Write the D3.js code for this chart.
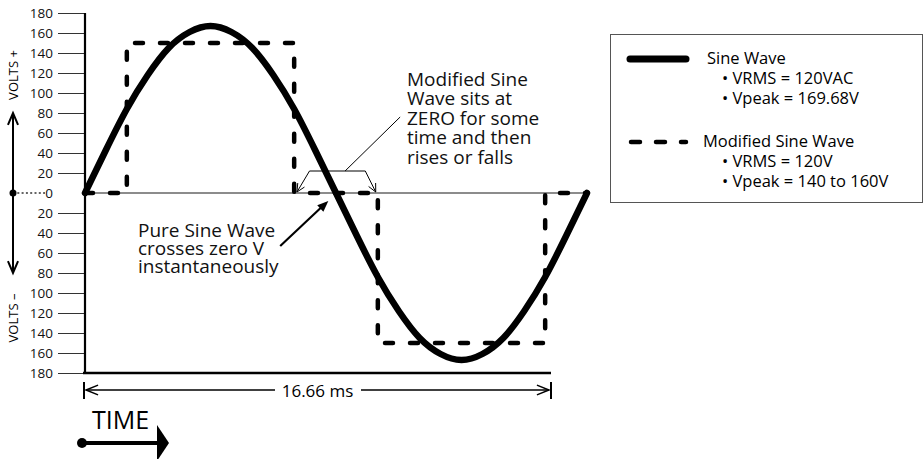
<!DOCTYPE html>
<html>
<head>
<meta charset="utf-8">
<script src="https://cdn.jsdelivr.net/npm/d3@7"></script>
<style>
  body { margin: 0; background: #fff; }
  svg { display: block; font-family: "Open Sans", "Noto Sans", sans-serif; }
</style>
</head>
<body>
<svg id="chart" width="924" height="459"></svg>
<script>
// values
var yTicks = [-180, -160, -140, -120, -100, -80, -60, -40, -20, 0, 20, 40, 60, 80, 100, 120, 140, 160, 180];

// pure sine, phase in degrees -> volts
var sineDeg   = [0, 15, 30, 45, 60, 75, 90, 105, 120, 135, 150, 165, 180, 195, 210, 225, 240, 255, 270, 285, 300, 315, 330, 345, 360];
var sineVolts = [0, 43, 84, 118, 145, 161, 167, 161, 145, 118, 84, 43, 0, -43, -84, -118, -145, -161, -167, -161, -145, -118, -84, -43, 0];

// modified sine (stepped)
var modDeg   = [0, 30, 30, 150, 150, 210, 210, 330, 330, 360];
var modVolts = [0, 0, 150, 150, 0, 0, -150, -150, 0, 0];

var periodMs = 16.66;
var periodLabel = "16.66 ms";

var legendItems = [
  {name: "Sine Wave", dash: null, lines: ["\u2022 VRMS = 120VAC", "\u2022 Vpeak = 169.68V"]},
  {name: "Modified Sine Wave", dash: "dash", lines: ["\u2022 VRMS = 120V", "\u2022 Vpeak = 140 to 160V"]}
];

var noteModified = ["Modified Sine", "Wave sits at", "ZERO for some", "time and then", "rises or falls"];
var notePure = ["Pure Sine Wave", "crosses zero V", "instantaneously"];

var svg = d3.select("#chart");

var x = d3.scaleLinear().domain([0, 360]).range([85, 587]);
var y = d3.scaleLinear().domain([-180, 180]).range([373, 13]);
var t = d3.scaleLinear().domain([0, periodMs]).range([84, 551]);

// open arrow head helper
function vHead(g, tx, ty, ang, len, spread, w) {
  var a1 = ang + Math.PI - spread, a2 = ang + Math.PI + spread;
  g.append("path")
    .attr("d", "M" + (tx + len * Math.cos(a1)) + "," + (ty + len * Math.sin(a1)) +
               "L" + tx + "," + ty +
               "L" + (tx + len * Math.cos(a2)) + "," + (ty + len * Math.sin(a2)))
    .attr("fill", "none").attr("stroke", "#000").attr("stroke-width", w);
}
function fHead(g, tx, ty, ang, len, half) {
  var bx = tx - len * Math.cos(ang), by = ty - len * Math.sin(ang);
  var px = -Math.sin(ang) * half, py = Math.cos(ang) * half;
  g.append("path")
    .attr("d", "M" + tx + "," + ty + "L" + (bx + px) + "," + (by + py) + "L" + (bx - px) + "," + (by - py) + "Z")
    .attr("fill", "#000");
}

// y axis ticks + labels
var yAxis = svg.append("g").attr("transform", "translate(85,0)")
  .call(d3.axisLeft(y).tickValues(yTicks).tickSize(27).tickPadding(5)
    .tickFormat(function(d) { return Math.abs(d); }));
yAxis.select(".domain").remove();
yAxis.selectAll(".tick line").attr("stroke", "#333").attr("stroke-width", 1);
yAxis.selectAll(".tick text").attr("font-size", 13.5).attr("fill", "#111")
  .attr("font-family", "'Open Sans', sans-serif");
yAxis.selectAll(".tick").filter(function(d) { return d === 0; }).select("line").remove();

// zero line
svg.append("line").attr("x1", x(0)).attr("x2", x(360)).attr("y1", y(0)).attr("y2", y(0))
  .attr("stroke", "#666").attr("stroke-width", 1.5);
svg.append("line").attr("x1", 13).attr("x2", 45).attr("y1", y(0)).attr("y2", y(0))
  .attr("stroke", "#333").attr("stroke-width", 1.5).attr("stroke-dasharray", "2,2.3");

// axis frame
svg.append("line").attr("x1", 85).attr("x2", 85).attr("y1", y(180)).attr("y2", y(-180))
  .attr("stroke", "#000").attr("stroke-width", 2.2);
svg.append("line").attr("x1", t(0) - 1).attr("x2", t(periodMs)).attr("y1", y(-180)).attr("y2", y(-180))
  .attr("stroke", "#000").attr("stroke-width", 2.5);

// volts arrow on the left
var va = svg.append("g");
va.append("line").attr("x1", 13).attr("x2", 13).attr("y1", 113).attr("y2", 273)
  .attr("stroke", "#000").attr("stroke-width", 2);
vHead(va, 13, 113, -Math.PI / 2, 13, 0.4, 2);
vHead(va, 13, 273, Math.PI / 2, 13, 0.4, 2);
va.append("circle").attr("cx", 13).attr("cy", y(0)).attr("r", 3.5).attr("fill", "#000");
va.append("text").attr("transform", "translate(18,75) rotate(-90)").attr("text-anchor", "middle")
  .attr("font-size", 13).text("VOLTS +");
va.append("text").attr("transform", "translate(18,318) rotate(-90)").attr("text-anchor", "middle")
  .attr("font-size", 13).text("VOLTS  \u2013");

// series
var sineLine = d3.line().x(function(d, i) { return x(sineDeg[i]); })
  .y(function(d) { return y(d); }).curve(d3.curveNatural);
svg.append("path").datum(sineVolts).attr("d", sineLine)
  .attr("fill", "none").attr("stroke", "#000").attr("stroke-width", 6.5)
  .attr("stroke-linecap", "round");

var modLine = d3.line().x(function(d, i) { return x(modDeg[i]); })
  .y(function(d) { return y(d); });
svg.append("path").datum(modVolts).attr("d", modLine)
  .attr("fill", "none").attr("stroke", "#000").attr("stroke-width", 4.5)
  .attr("stroke-dasharray", "8,17").attr("stroke-linecap", "round").attr("stroke-linejoin", "round");

// bracket annotation for the zero step
var br = svg.append("g");
br.append("path")
  .attr("d", "M" + x(152) + "," + y(1) + "L" + x(161) + "," + y(22) + "L" + x(201) + "," + y(22) + "L" + x(208.5) + "," + y(1))
  .attr("fill", "none").attr("stroke", "#000").attr("stroke-width", 1);
vHead(br, x(152), y(1), Math.atan2(y(1) - y(22), x(152) - x(161)), 9, 0.45, 1);
vHead(br, x(208.5), y(1), Math.atan2(y(1) - y(22), x(208.5) - x(201)), 9, 0.45, 1);
br.append("line").attr("x1", x(186.5)).attr("y1", y(22)).attr("x2", x(226)).attr("y2", y(76))
  .attr("stroke", "#000").attr("stroke-width", 1);

svg.append("text").attr("font-size", 19).attr("fill", "#111")
  .selectAll("tspan").data(noteModified).enter().append("tspan")
  .attr("x", 407).attr("y", function(d, i) { return 86 + i * 19.4; }).text(function(d) { return d; });

// pure sine arrow
var pa = svg.append("g");
pa.append("line").attr("x1", x(140)).attr("y1", y(-53)).attr("x2", x(172)).attr("y2", y(-11))
  .attr("stroke", "#000").attr("stroke-width", 2.2);
fHead(pa, x(174.5), y(-8), Math.atan2(y(-8) - y(-53), x(174.5) - x(140)), 11, 4.5);

svg.append("text").attr("font-size", 19).attr("fill", "#111")
  .selectAll("tspan").data(notePure).enter().append("tspan")
  .attr("x", 138).attr("y", function(d, i) { return 237 + i * 18; }).text(function(d) { return d; });

// period dimension
var dim = svg.append("g");
var dy = 390;
dim.append("line").attr("x1", t(0)).attr("x2", t(0)).attr("y1", 382).attr("y2", 399).attr("stroke", "#000").attr("stroke-width", 2);
dim.append("line").attr("x1", t(periodMs)).attr("x2", t(periodMs)).attr("y1", 382).attr("y2", 399).attr("stroke", "#000").attr("stroke-width", 2);
dim.append("line").attr("x1", t(0) + 2).attr("x2", 275).attr("y1", dy).attr("y2", dy).attr("stroke", "#000").attr("stroke-width", 1.5);
dim.append("line").attr("x1", 361).attr("x2", t(periodMs) - 2).attr("y1", dy).attr("y2", dy).attr("stroke", "#000").attr("stroke-width", 1.5);
vHead(dim, t(0) + 2, dy, Math.PI, 13, 0.38, 1.5);
vHead(dim, t(periodMs) - 2, dy, 0, 13, 0.38, 1.5);
dim.append("text").attr("x", (t(0) + t(periodMs)) / 2 - 0).attr("y", 396.5).attr("text-anchor", "middle")
  .attr("font-size", 17).text(periodLabel);

// TIME arrow
var ta = svg.append("g");
ta.append("text").attr("x", 92).attr("y", 429).attr("font-size", 25).text("TIME");
ta.append("circle").attr("cx", 82).attr("cy", 443).attr("r", 5).attr("fill", "#000");
ta.append("line").attr("x1", 82).attr("x2", 160).attr("y1", 443).attr("y2", 443).attr("stroke", "#000").attr("stroke-width", 4);
ta.append("path").attr("d", "M157,425L169,443L157,461Z").attr("fill", "#000");

// legend
var lg = svg.append("g");
lg.append("rect").attr("x", 610.5).attr("y", 34.5).attr("width", 312).attr("height", 168)
  .attr("fill", "none").attr("stroke", "#555").attr("stroke-width", 1);
var item = lg.selectAll("g.item").data(legendItems).enter().append("g").attr("class", "item")
  .attr("transform", function(d, i) { return "translate(0," + (i * 83) + ")"; });
item.append("line").attr("x1", function(d) { return d.dash ? 631 : 630; })
  .attr("x2", 686).attr("y1", 59).attr("y2", 59)
  .attr("stroke", "#000").attr("stroke-linecap", "round")
  .attr("stroke-width", function(d) { return d.dash ? 4.5 : 7; })
  .attr("stroke-dasharray", function(d) { return d.dash ? "9,16" : null; });
item.append("text").attr("x", function(d) { return d.dash ? 703 : 707; }).attr("y", 64)
  .attr("font-size", 16.5).text(function(d) { return d.name; });
item.each(function(d) {
  d3.select(this).selectAll("text.b").data(d.lines).enter().append("text").attr("class", "b")
    .attr("x", 722).attr("y", function(s, i) { return 84 + i * 20; })
    .attr("font-size", 16.5).text(function(s) { return s; });
});
</script>
</body>
</html>
